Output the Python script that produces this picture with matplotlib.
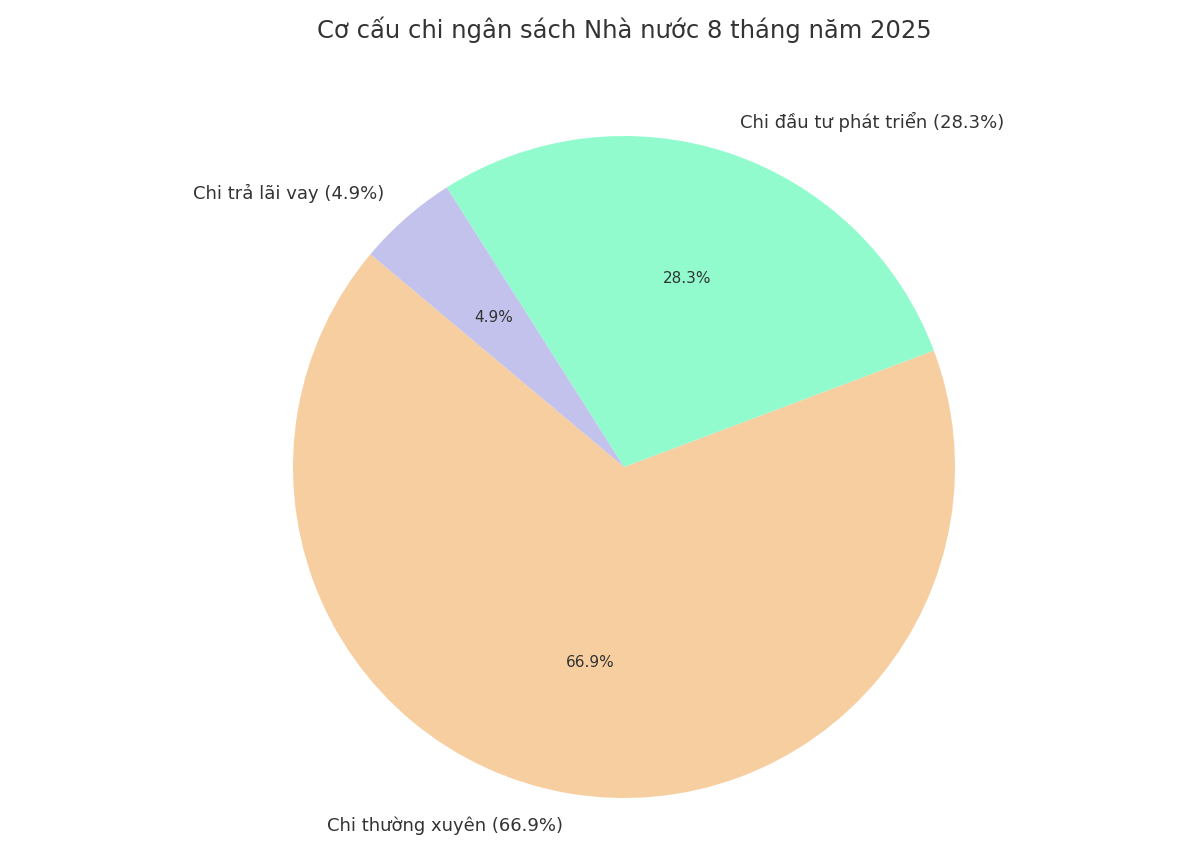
import matplotlib
matplotlib.use("Agg")
import matplotlib.pyplot as plt

labels = ["Chi thường xuyên", "Chi đầu tư phát triển", "Chi trả lãi vay"]
shares = [66.9, 28.3, 4.9]
colors = ["#F6CEA0", "#91FBCE", "#C3C2EC"]

pie_labels = [f"{name} ({v}%)" for name, v in zip(labels, shares)]
total = sum(shares)

fig = plt.figure(figsize=(12, 8.55), dpi=100)
ax = fig.add_axes([0, 0, 1, 1])

wedges, texts, autotexts = ax.pie(
    shares,
    labels=pie_labels,
    colors=colors,
    startangle=140,
    autopct=lambda p: f"{p * total / 100:.1f}%",
    labeldistance=1.1,
    pctdistance=0.6,
    textprops={"color": "#333333"},
)
for t in texts:
    t.set_fontsize(13)
for t in autotexts:
    t.set_fontsize(11)

# pie centre at (624, 467) px, radius 331 px
ax.set_xlim(-624 / 331, (1200 - 624) / 331)
ax.set_ylim(-388 / 331, (855 - 388) / 331)

fig.text(624 / 1200, 1 - 30 / 855, "Cơ cấu chi ngân sách Nhà nước 8 tháng năm 2025",
         ha="center", va="center", fontsize=17.5, color="#333333")

fig.savefig("out.png", dpi=100)
